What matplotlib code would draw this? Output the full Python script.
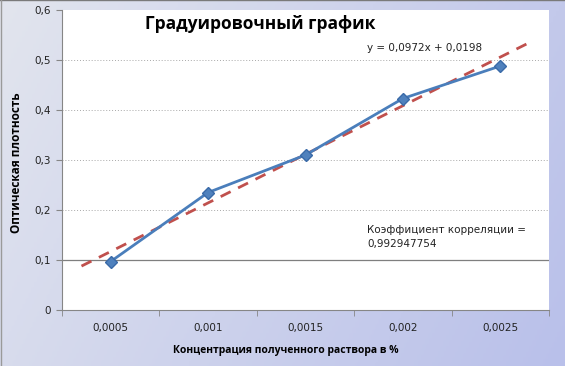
import numpy as np
import matplotlib
matplotlib.use("Agg")
import matplotlib.pyplot as plt
from matplotlib.colors import LinearSegmentedColormap

# данные
concentrations = ["0,0005", "0,001", "0,0015", "0,002", "0,0025"]
optical_density = [0.097, 0.235, 0.31, 0.423, 0.488]
y_ticks = [0, 0.1, 0.2, 0.3, 0.4, 0.5, 0.6]
y_labels = ["0", "0,1", "0,2", "0,3", "0,4", "0,5", "0,6"]
slope, intercept = 0.0972, 0.0198
forecast = 0.3  # продление линии тренда в обе стороны
correlation = "0,992947754"

plt.rcParams["font.family"] = ["DejaVu Sans"]

fig = plt.figure(figsize=(5.65, 3.66), dpi=100)

# фон в стиле Excel: градиент от серо-голубого к сиреневому
bg = fig.add_axes([0, 0, 1, 1], zorder=-10)
gx, gy = np.meshgrid(np.linspace(0, 1, 200), np.linspace(0, 1, 200))
grad = 0.75 * gx + 0.25 * gy
cmap = LinearSegmentedColormap.from_list("bg", ["#e2e5ee", "#cdd2ec", "#b9c0ea"])
bg.imshow(grad, cmap=cmap, aspect="auto", origin="upper", extent=[0, 1, 0, 1])
bg.plot([0, 1], [0.999, 0.999], color="#7a7a7a", lw=1, transform=bg.transAxes)
bg.plot([0.001, 0.001], [0, 1], color="#9a9a9a", lw=1, transform=bg.transAxes)
bg.set_axis_off()

W, H = 565, 366
ax = fig.add_axes([62 / W, (H - 310) / H, 487 / W, 300 / H])
ax.set_facecolor("white")

x = np.arange(len(concentrations))
ax.set_xlim(-0.5, len(concentrations) - 0.5)
ax.set_ylim(0, 0.6)

for v in y_ticks[2:-1]:
    ax.axhline(v, color="#a8a8a8", lw=0.7, ls=(0, (1, 2)), zorder=1)
ax.axhline(0.1, color="#7f7f7f", lw=0.9, zorder=1)

# линия тренда (x в Excel нумеруется с 1)
tx = np.array([1 - forecast, len(concentrations) + forecast])
ax.plot(tx - 1, slope * tx + intercept, color="#c0504d", lw=2, ls=(0, (4, 3)), zorder=3)

ax.plot(x, optical_density, color="#4a7ebb", lw=2, marker="D", markersize=6.5,
        markerfacecolor="#4f81bd", markeredgecolor="#3a6aa8", zorder=4)

ax.set_yticks(y_ticks)
ax.set_yticklabels(y_labels, fontsize=7.5, color="#222222")
ax.set_xticks(x)
ax.set_xticklabels(concentrations, fontsize=7.5, color="#222222")
ax.tick_params(axis="x", length=0, pad=9)
ax.set_xticks(np.arange(-0.5, len(concentrations)), minor=True)
ax.tick_params(axis="x", which="minor", length=4, color="#868686", direction="out")
ax.tick_params(axis="y", length=4, color="#868686", direction="out", pad=4)

for s in ["top", "right"]:
    ax.spines[s].set_visible(False)
for s in ["left", "bottom"]:
    ax.spines[s].set_color("#868686")

fig.text(260 / W, 1 - 24 / H, "Градуировочный график", fontsize=12.5, fontweight="bold",
         ha="center", va="center", family=["Open Sans", "DejaVu Sans"])
fig.text(367 / W, 1 - 48 / H, "y = 0,0972x + 0,0198", fontsize=7.5, ha="left", va="center",
         color="#222222")
fig.text(367 / W, 1 - 237 / H, "Коэффициент корреляции =\n" + correlation, fontsize=7.5,
         ha="left", va="center", color="#222222", linespacing=1.5)
fig.text(17 / W, 1 - 163 / H, "Оптическая плотность", fontsize=8.5, fontweight="bold",
         rotation=90, ha="center", va="center", family=["Open Sans", "DejaVu Sans"])
fig.text(286 / W, 1 - 350 / H, "Концентрация полученного раствора в %", fontsize=7.5,
         fontweight="bold", ha="center", va="center", family=["Open Sans", "DejaVu Sans"])

fig.savefig("out.png", dpi=100)
